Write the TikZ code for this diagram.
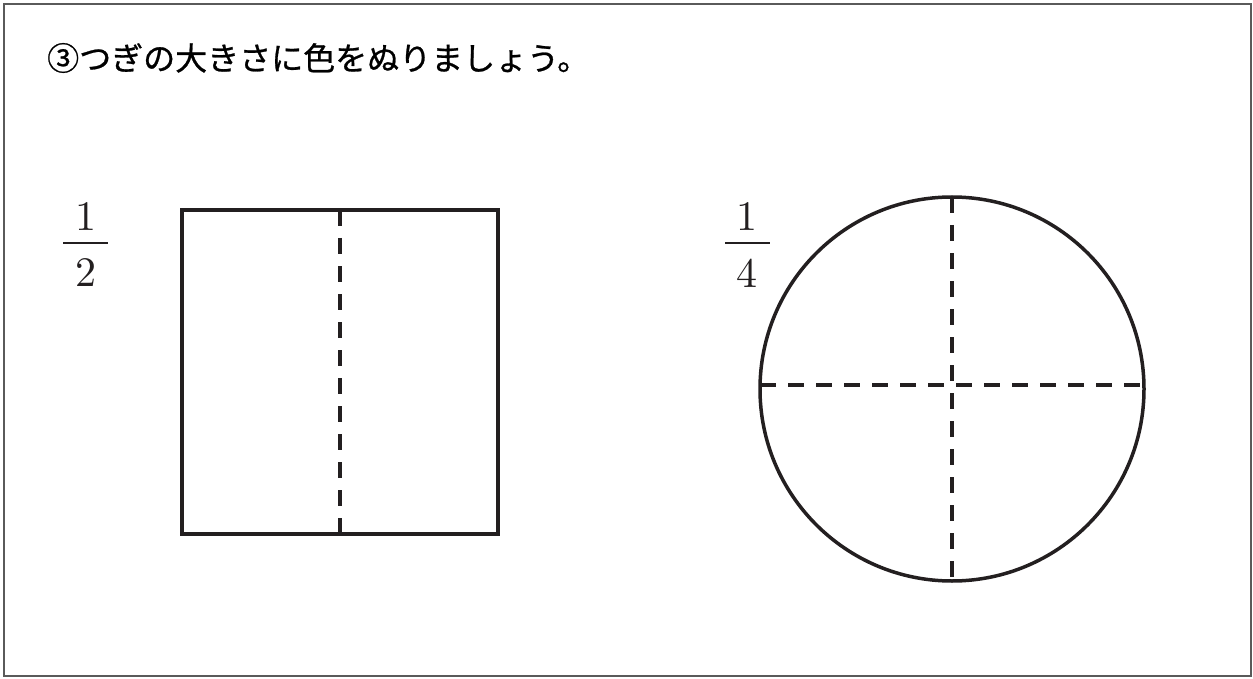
\documentclass[tikz,border=0pt]{standalone}
\usepackage{fontspec}
\newfontfamily\cjk[FakeBold=0.8]{Noto Sans CJK JP}
\newfontfamily\lmten{lmroman10-regular.otf}
\begin{document}
\begin{tikzpicture}[x=1pt,y=-1pt,
  shape line/.style={line width=3.5pt, draw={rgb,255:red,35;green,31;blue,32}},
  dash line/.style={shape line, dash pattern=on 16pt off 12pt},
  digit/.style={inner sep=0pt, font=\lmten\fontsize{42}{44}\selectfont, text={rgb,255:red,35;green,31;blue,32}},
  fracbar/.style={line width=1.8pt, draw={rgb,255:red,35;green,31;blue,32}}]
\useasboundingbox (0,0) rectangle (1253,679);
\draw[line width=1.5pt, draw={rgb,255:red,90;green,90;blue,90}] (4,4) rectangle (1251,676);
\node[inner sep=0pt, anchor=west, font=\cjk\fontsize{32}{36}\selectfont] (title) at (47,58) {③つぎの大きさに色をぬりましょう。};
% fraction 1/2
\node[digit] (n1) at (86,217) {1};
\node[digit] (d1) at (86,273) {2};
\coordinate (b1l) at (63,243); \coordinate (b1r) at (108,243);
\draw[fracbar] (b1l) -- (b1r);
% rectangle
\coordinate (rtl) at (182,210); \coordinate (rbr) at (498,534);
\coordinate (mt) at (340,210); \coordinate (mb) at (340,534);
\draw[shape line] (rtl) rectangle (rbr);
\draw[dash line] (mt) -- (mb);
% fraction 1/4
\node[digit] (n2) at (747,217) {1};
\node[digit] (d2) at (747,273) {4};
\coordinate (b2l) at (725,243); \coordinate (b2r) at (770,243);
\draw[fracbar] (b2l) -- (b2r);
% circle
\coordinate (c) at (952,389);
\draw[shape line] (c) circle (192);
\coordinate (ct) at (952,197); \coordinate (cb) at (952,581);
\coordinate (cl) at (760,385); \coordinate (cr) at (1144,385);
\draw[dash line] (ct) -- (cb);
\draw[dash line] (cl) -- (cr);
\end{tikzpicture}
\end{document}
